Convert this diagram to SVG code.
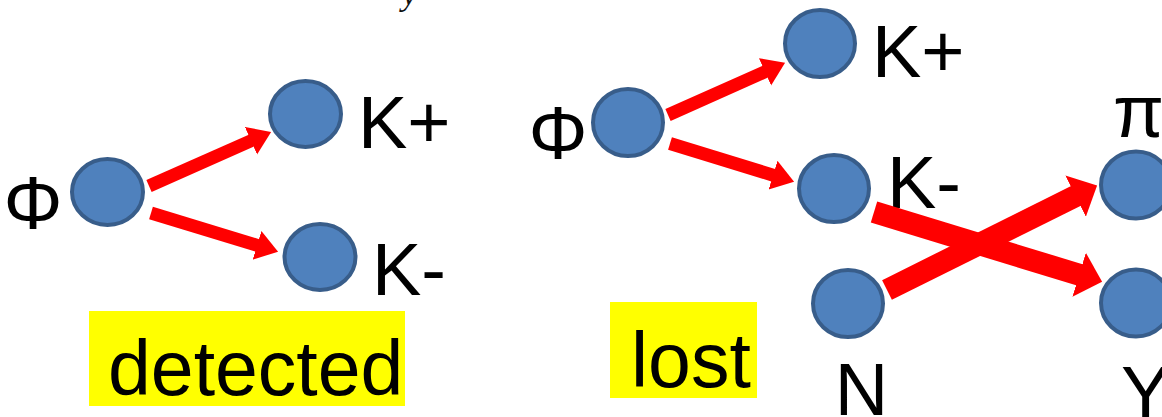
<svg xmlns="http://www.w3.org/2000/svg" width="1162" height="417" viewBox="0 0 1162 417">
<style>
.node{fill:#4F81BD;stroke:#385D8A;stroke-width:4}
.lbl{font-family:"Liberation Sans",Arial,sans-serif;font-size:74px;fill:#000}
.tag{font-family:"Liberation Sans",Arial,sans-serif;font-size:77px;fill:#000}
.hl{fill:#FFFF00}
.arr{stroke:#FF0000;stroke-width:13;fill:none;marker-end:url(#ah)}
.arrb{stroke:#FF0000;stroke-width:22;fill:none;marker-end:url(#ahb)}
</style>
<defs>
<marker id="ah" markerUnits="userSpaceOnUse" markerWidth="24" markerHeight="32" viewBox="0 -16 24 32" refX="1" refY="0" orient="auto">
<path d="M0,-15 L22,0 L0,15 Z" fill="#FF0000"/>
</marker>
<marker id="ahb" markerUnits="userSpaceOnUse" markerWidth="26" markerHeight="48" viewBox="0 -24 26 48" refX="1" refY="0" orient="auto">
<path d="M0,-23 L24,0 L0,23 Z" fill="#FF0000"/>
</marker>
</defs>
<rect width="1162" height="417" fill="#FFFFFF"/>
<text x="402" y="5" font-family="'Liberation Serif',serif" font-style="italic" font-size="34" fill="#111">y</text>

<g id="detected-tag"><rect class="hl" x="89" y="311" width="316" height="95"/><text class="tag" x="108" y="395">detected</text></g>
<g id="lost-tag"><rect class="hl" x="610" y="302" width="147" height="96"/><text class="tag" x="631" y="387">lost</text></g>

<g id="L-phi"><ellipse class="node" cx="107.5" cy="192" rx="35.5" ry="33"/><text class="lbl" x="33" y="229" text-anchor="middle">Φ</text></g>
<g id="L-kplus"><ellipse class="node" cx="305.5" cy="114" rx="35.5" ry="33"/><text class="lbl" x="358" y="148">K+</text></g>
<g id="L-kminus"><ellipse class="node" cx="320" cy="257" rx="35.5" ry="33"/><text class="lbl" x="372" y="295">K-</text></g>

<g id="R-phi"><ellipse class="node" cx="628" cy="122.5" rx="35" ry="33.5"/><text class="lbl" x="558" y="159" text-anchor="middle">Φ</text></g>
<g id="R-kplus"><ellipse class="node" cx="820" cy="43.5" rx="35" ry="33.5"/><text class="lbl" x="872" y="77">K+</text></g>
<g id="R-kminus"><ellipse class="node" cx="834" cy="188.5" rx="35" ry="33.5"/><text class="lbl" x="887" y="208">K-</text></g>
<g id="R-N"><ellipse class="node" cx="848" cy="303.5" rx="35" ry="33.5"/><text class="lbl" x="861.5" y="415" text-anchor="middle">N</text></g>
<g id="R-pi"><ellipse class="node" cx="1136" cy="185" rx="35" ry="33.5"/><text class="lbl" x="1138.5" y="137" text-anchor="middle">π</text></g>
<g id="R-Y"><ellipse class="node" cx="1136" cy="303" rx="35" ry="33.5"/><text class="lbl" x="1121" y="418">Y</text></g>

<g id="connectors">
<line class="arr" x1="149" y1="186" x2="251.9" y2="140.4"/>
<line class="arr" x1="151" y1="213" x2="258" y2="245.6"/>
<line class="arr" x1="668" y1="115" x2="765.9" y2="71.4"/>
<line class="arr" x1="670" y1="143.5" x2="774" y2="175.5"/>
<line class="arrb" x1="874" y1="212" x2="1080.1" y2="275"/>
<line class="arrb" x1="887" y1="290" x2="1076.5" y2="195.7"/>
</g>
</svg>
